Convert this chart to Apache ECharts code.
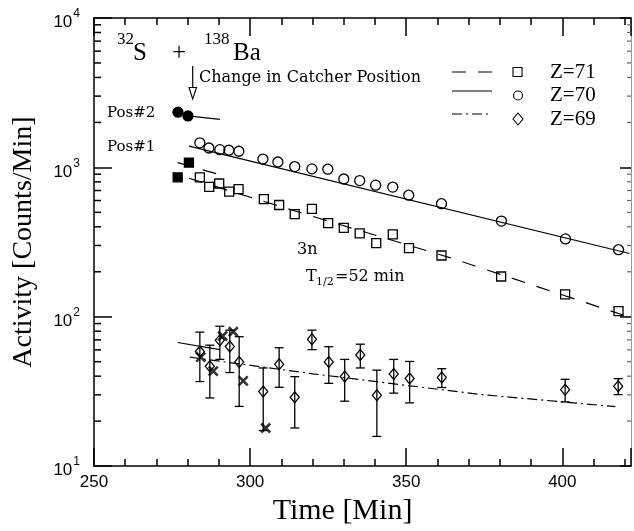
<!DOCTYPE html>
<html>
<head>
<meta charset="utf-8">
<script src="https://cdn.jsdelivr.net/npm/echarts@6/dist/echarts.min.js"></script>
<style>
  html, body { margin: 0; padding: 0; background: #fff; }
  #chart { width: 634px; height: 531px; }
</style>
</head>
<body>
<div id="chart"></div>
<script>
// Z=70 (open circles)
const timesZ70 = [283.9, 286.8, 290.3, 293.2, 296.4, 304.1, 308.9, 314.3, 319.8, 324.9, 330.0, 335.1, 340.2, 345.7, 350.8, 361.3, 380.5, 401.0, 418.0];
const actZ70 = [1459, 1348, 1314, 1302, 1282, 1137, 1086, 1012, 977, 972, 836, 816, 760, 738, 651, 571, 437, 332, 281];
const timesZ70Pos2 = [276.9, 280.1];
const actZ70Pos2 = [2340, 2210];

// Z=71 (open squares)
const timesZ71 = [283.9, 286.9, 290.1, 293.3, 296.3, 304.4, 309.3, 314.3, 319.8, 325.0, 330.0, 335.1, 340.4, 345.7, 350.9, 361.3, 380.4, 400.9, 418.0];
const actZ71 = [858, 741, 780, 687, 715, 613, 560, 486, 527, 424, 394, 362, 311, 356, 288, 257, 186, 141, 109];
const timesZ71Pos = [276.8, 280.4];
const actZ71Pos = [858, 1075];

// Z=69 (diamonds with error bars)
const timesZ69 = [283.9, 287.1, 290.3, 293.5, 296.5, 304.2, 309.3, 314.3, 319.8, 325.2, 330.3, 335.3, 340.6, 346.0, 351.1, 361.4, 400.9, 417.9];
const actZ69 = [58.4, 46.6, 69.6, 63.2, 49.7, 31.6, 48.0, 28.9, 70.6, 49.7, 39.8, 55.5, 29.8, 41.3, 38.6, 39.2, 32.4, 34.3];
const errLowZ69 = [36.8, 28.6, 51.8, 42.3, 25.1, 17.3, 33.7, 18.0, 60.2, 35.8, 27.2, 45.4, 15.8, 30.8, 26.5, 33.6, 26.9, 30.1];
const errHighZ69 = [78.9, 64.5, 86.4, 81.3, 73.5, 45.4, 62.0, 39.7, 81.3, 63.0, 51.8, 65.5, 43.9, 51.8, 50.2, 44.9, 38.1, 38.5];
const timesCross = [284.2, 288.2, 291.2, 294.6, 297.8, 305.0];
const actCross = [53.6, 43.2, 74.3, 79.3, 37.2, 18.0];

// fitted curves (time, activity)
const fitZ70 = [[280.4, 1389], [421.5, 265]];
const fitZ70Pos2 = [[280.1, 2210], [290.3, 2096]];
const fitZ71 = [[280.4, 845], [319.1, 476], [363.9, 249], [422.4, 98]];
const fitZ71Pos2 = [[276.8, 1075], [290.3, 893]];
const fitZ69 = [[280.7, 53.6], [320.1, 41.5], [373.5, 30.2], [417.0, 25.0]];
const fitZ69Pos2 = [[276.8, 67.2], [290.3, 60.2]];

const xTicks = [250, 300, 350, 400];
// log minor ticks (2..9 per decade)
const yMinorTicks = [20, 30, 40, 50, 60, 70, 80, 90,
  200, 300, 400, 500, 600, 700, 800, 900,
  2000, 3000, 4000, 5000, 6000, 7000, 8000, 9000];

const chart = echarts.init(document.getElementById('chart'));
const pairs = (xs, ys) => xs.map((x, i) => [x, ys[i]]);
const ink = '#000';
const serif = '"Liberation Serif", "DejaVu Serif", serif';
const noteFont = '"DejaVu Serif", serif';

const xAxisBase = {
  type: 'value', min: 250, max: 422, interval: 50,
  axisLine: { show: true, onZero: false, lineStyle: { color: ink, width: 1.5 } },
  axisTick: { show: true, inside: true, length: 18, lineStyle: { color: ink, width: 1.5 } },
  minorTick: { show: true, splitNumber: 5, length: 7, lineStyle: { color: ink, width: 1.5 } },
  splitLine: { show: false },
};
const yAxisBase = {
  type: 'log', logBase: 10, min: 10, max: 10000,
  axisLine: { show: true, onZero: false, lineStyle: { color: ink, width: 1.5 } },
  axisTick: { show: true, inside: true, length: 18, lineStyle: { color: ink, width: 1.5 } },
  minorTick: { show: false },
  splitLine: { show: false },
};

const line = (data, type) => ({
  type: 'line', data, symbol: 'none', silent: true, z: 2,
  lineStyle: { color: ink, width: 1.2, type: type || 'solid' },
});
const scatter = (data, symbol, size, filled) => ({
  type: 'scatter', data, symbol, symbolSize: size, z: 4,
  itemStyle: { color: filled ? ink : 'transparent', borderColor: ink, borderWidth: 1.3, opacity: 1 },
});

const legendRows = [
  { y: 72, lineDash: [14, 12], sym: 'rect', label: 'Z=71' },
  { y: 91, lineDash: null, sym: 'circle', label: 'Z=70' },
  { y: 114, lineDash: [10, 4, 2, 4], sym: 'diamond', label: 'Z=69' },
];
const legendGraphics = [];
legendRows.forEach((r, i) => {
  const ty = [72.5, 95.5, 119][i];
  legendGraphics.push({
    type: 'line', shape: { x1: 452, y1: r.y, x2: 492, y2: r.y },
    style: { stroke: ink, lineWidth: 1.2, lineDash: r.lineDash },
  });
  if (r.sym === 'rect') {
    legendGraphics.push({ type: 'rect', shape: { x: 513, y: ty - 5, width: 9, height: 9 }, style: { fill: 'none', stroke: ink, lineWidth: 1.1 } });
  } else if (r.sym === 'circle') {
    legendGraphics.push({ type: 'circle', shape: { cx: 518, cy: ty, r: 4.5 }, style: { fill: 'none', stroke: ink, lineWidth: 1.1 } });
  } else {
    legendGraphics.push({ type: 'polygon', shape: { points: [[518, ty - 6], [523, ty], [518, ty + 6], [513, ty]] }, style: { fill: 'none', stroke: ink, lineWidth: 1.1 } });
  }
  legendGraphics.push({
    type: 'text', x: 550, y: ty,
    style: { text: r.label, font: '21px ' + serif, fill: ink, textVerticalAlign: 'middle' },
  });
});

const txt = (text, x, y, size, family, align) => ({
  type: 'text', x, y,
  style: { text, font: size + 'px ' + family, fill: ink, textAlign: align || 'left', textVerticalAlign: 'middle' },
});

chart.setOption({
  animation: false,
  backgroundColor: '#fff',
  grid: { left: 94, right: 2, top: 18, bottom: 54 },
  xAxis: [
    Object.assign({}, xAxisBase, {
      position: 'bottom',
      axisLabel: {
        margin: 8, fontSize: 17, fontFamily: '"Liberation Sans", Arial, sans-serif', color: ink,
        formatter: (v) => (xTicks.indexOf(v) >= 0 ? String(v) : ''),
      },
      name: 'Time [Min]', nameLocation: 'middle', nameGap: 22,
      nameTextStyle: { fontFamily: serif, fontSize: 30, color: ink, padding: [0, 40, 0, 0] },
    }),
    Object.assign({}, xAxisBase, { position: 'top', axisLabel: { show: false } }),
  ],
  yAxis: [
    Object.assign({}, yAxisBase, {
      position: 'left',
      axisLabel: {
        margin: 14, color: ink,
        formatter: (v) => '{b|10}{s|' + Math.round(Math.log10(v)) + '}',
        rich: {
          b: { fontSize: 17, fontFamily: '"Liberation Sans", Arial, sans-serif', color: ink, verticalAlign: 'bottom', lineHeight: 26 },
          s: { fontSize: 12, fontFamily: '"Liberation Sans", Arial, sans-serif', color: ink, verticalAlign: 'top', lineHeight: 26, padding: [3, 0, 0, 1] },
        },
      },
      name: 'Activity [Counts/Min]', nameLocation: 'middle', nameGap: 56, nameRotate: 90,
      nameTextStyle: { fontFamily: serif, fontSize: 28, color: ink },
    }),
    Object.assign({}, yAxisBase, {
      position: 'right',
      axisLine: { show: true, lineStyle: { color: '#999', width: 1 } },
      axisTick: { show: true, inside: true, length: 11, lineStyle: { color: ink, width: 1.5 } },
      axisLabel: { show: false },
    }),
  ],
  series: [
    {
      // minor log ticks on the left and right frame, placed through the y scale
      type: 'custom', silent: true, z: 1,
      data: yMinorTicks.map((v) => [250, v]),
      encode: { x: 0, y: 1 },
      renderItem: (params, api) => {
        const cs = params.coordSys;
        const y = api.coord([250, api.value(1)])[1];
        return {
          type: 'group',
          children: [
            { type: 'line', shape: { x1: cs.x, y1: y, x2: cs.x + 7, y2: y }, style: { stroke: ink, lineWidth: 1.5 } },
            { type: 'line', shape: { x1: cs.x + cs.width - 4, y1: y, x2: cs.x + cs.width, y2: y }, style: { stroke: '#666', lineWidth: 1.2 } },
          ],
        };
      },
    },
    line(fitZ70),
    line(fitZ70Pos2),
    line(fitZ71, [14, 12]),
    line(fitZ71Pos2, [14, 12]),
    line(fitZ69, [10, 4, 2, 4]),
    line(fitZ69Pos2),
    scatter(pairs(timesZ70, actZ70), 'circle', 10, false),
    scatter(pairs(timesZ70Pos2, actZ70Pos2), 'circle', 10, true),
    scatter(pairs(timesZ71, actZ71), 'rect', 9, false),
    scatter(pairs(timesZ71Pos, actZ71Pos), 'rect', 9, true),
    {
      type: 'custom', z: 3,
      data: timesZ69.map((t, i) => [t, errLowZ69[i], errHighZ69[i]]),
      encode: { x: 0, y: [1, 2] },
      renderItem: (params, api) => {
        const lo = api.coord([api.value(0), api.value(1)]);
        const hi = api.coord([api.value(0), api.value(2)]);
        const w = 4.5;
        const st = { stroke: ink, lineWidth: 1.3 };
        return {
          type: 'group',
          children: [
            { type: 'line', shape: { x1: lo[0], y1: lo[1], x2: hi[0], y2: hi[1] }, style: st },
            { type: 'line', shape: { x1: lo[0] - w, y1: lo[1], x2: lo[0] + w, y2: lo[1] }, style: st },
            { type: 'line', shape: { x1: hi[0] - w, y1: hi[1], x2: hi[0] + w, y2: hi[1] }, style: st },
          ],
        };
      },
    },
    scatter(pairs(timesZ69, actZ69), 'diamond', [9, 11], false),
    {
      type: 'scatter', z: 5,
      data: pairs(timesCross, actCross),
      symbol: 'path://M0,0L10,10M10,0L0,10', symbolSize: 9,
      itemStyle: { color: 'none', borderColor: ink, borderWidth: 2.6 },
    },
  ],
  graphic: [
    txt('32', 117, 40, 17, serif),
    txt('S', 133, 53, 25, serif),
    txt('+', 179, 53, 25, serif, 'center'),
    txt('138', 204, 40, 17, serif),
    txt('Ba', 233, 53, 25, serif),
    { type: 'line', shape: { x1: 192.7, y1: 66, x2: 192.7, y2: 88 }, style: { stroke: ink, lineWidth: 1.2 } },
    { type: 'polygon', shape: { points: [[189, 87.5], [196.5, 87.5], [192.7, 99]] }, style: { fill: '#fff', stroke: ink, lineWidth: 1.1 } },
    txt('Change in Catcher Position', 199, 78, 16, noteFont),
    txt('Pos#2', 107, 113, 15, noteFont),
    txt('Pos#1', 107, 147, 15, noteFont),
    txt('3n', 297, 250, 16, noteFont),
    txt('T', 306, 277, 16, noteFont),
    txt('1/2', 316, 282, 11, noteFont),
    txt('=52 min', 335, 277, 16, noteFont),
  ].concat(legendGraphics),
});
</script>
</body>
</html>
